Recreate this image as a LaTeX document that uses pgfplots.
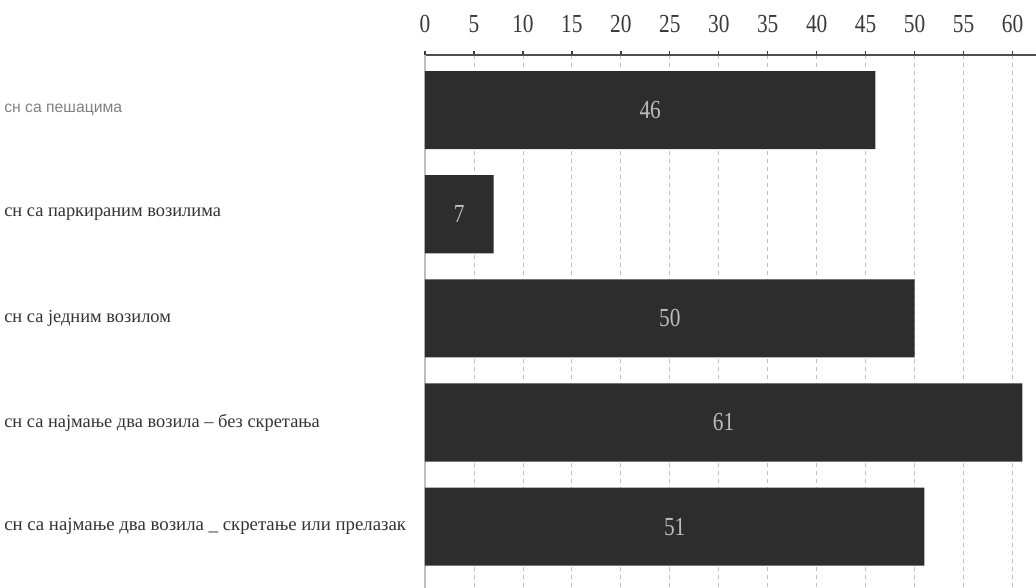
\documentclass[border=0pt]{standalone}
\usepackage{pgfplots}
\pgfplotsset{compat=1.18}
\usepackage{pgfplotstable}
\usepackage{fontspec}
\setmainfont{Liberation Serif}
\newfontfamily\numfont[FakeStretch=0.82]{Liberation Serif}
\newfontfamily\lightlab{Liberation Sans}
\definecolor{barc}{HTML}{2D2D2D}
\definecolor{tickc}{HTML}{3A3A3A}
\definecolor{labc}{HTML}{333333}
\definecolor{valc}{HTML}{BDBDBD}
\definecolor{gridc}{HTML}{BFBFBF}

\pgfplotstableread{
y v
0 46
1 7
2 50
3 61
4 51
}\accidents

\begin{document}
\begin{tikzpicture}
\useasboundingbox (0,0) rectangle (777pt,441pt);
\begin{axis}[
    at={(318.75pt,0pt)}, anchor=south west,
    scale only axis,
    width=458.25pt, height=399.75pt,
    xmin=0, xmax=62.4,
    ymin=-0.53, ymax=4.59,
    y dir=reverse,
    axis x line*=top,
    axis y line*=left,
    x axis line style={draw=tickc!90, line width=1.5pt},
    y axis line style={draw=gridc, line width=1.5pt},
    xtick={0,5,...,60},
    major tick length=3pt,
    tick align=outside,
    xtick style={draw=tickc, line width=1pt},
    ytick={0,...,4},
    ytick style={draw=none},
    /pgf/number format/assume math mode=true,
    xticklabel style={font=\numfont\fontsize{19.5}{19.5}\selectfont, text=tickc, yshift=10pt},
    yticklabel style={anchor=west, inner sep=0pt, xshift=-312.75pt, text=labc},
    yticklabels={
        {\lightlab\fontsize{11.8}{11.8}\selectfont\color{gray}сн са пешацима},
        {\fontsize{13.8}{13.8}\selectfont сн са паркираним возилима},
        {\fontsize{13.8}{13.8}\selectfont сн са једним возилом},
        {\fontsize{13.8}{13.8}\selectfont сн са најмање два возила – без скретања},
        {\fontsize{14.1}{14.1}\selectfont сн са најмање два возила \_ скретање или прелазак}
    },
    xmajorgrids=true,
    grid style={draw=gridc, dash pattern=on 3pt off 3pt, line width=0.6pt},
    clip=false,
]
\addplot[xbar, bar width=0.75, fill=barc, draw=none] table[x=v, y=y] {\accidents};
\addplot[draw=none, mark=none,
    nodes near coords, point meta=explicit symbolic,
    every node near coord/.append style={anchor=center, text=valc,
        font=\numfont\fontsize{19.5}{19.5}\selectfont}]
    table[x expr=\thisrow{v}/2, y=y, meta=v] {\accidents};
\end{axis}
\end{tikzpicture}
\end{document}
